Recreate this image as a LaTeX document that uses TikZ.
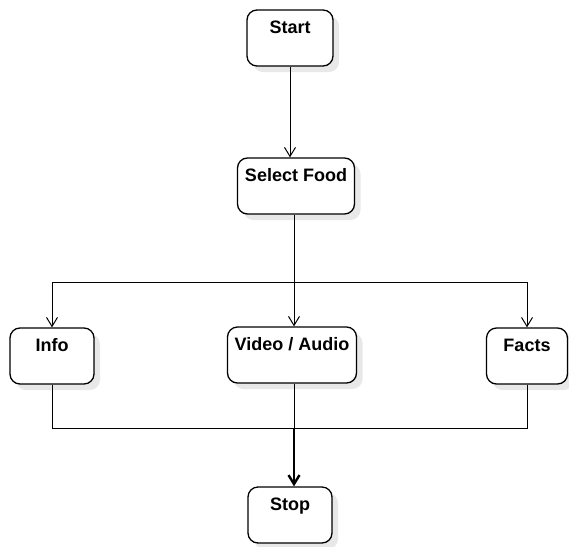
\documentclass[tikz,border=0pt]{standalone}
\usepackage{fontspec}
\setmainfont{Liberation Sans}
\usetikzlibrary{arrows.meta,shadows}

\begin{document}
\begin{tikzpicture}
			[
				x                       = 1pt,
				y                       = -1pt,
				font                    = \fontsize{18}{21}\selectfont\bfseries,
				line width              = 1pt,
				>                       = {Straight Barb[length=9pt,width=11pt]},
				align                   = center
			]
			\tikzstyle{flowbox}=[draw, line width=1.3pt, rounded corners=10pt, fill=white, inner xsep=0pt, inner ysep=0pt,
				text height=23pt, text depth=33pt,
				drop shadow={shadow xshift=6pt, shadow yshift=-6pt, fill=black!9, opacity=1}]
			\useasboundingbox (0,0) rectangle (569,546);
			\node [flowbox, minimum width=86pt]  (start) at (290,38)  {Start};
			\node [flowbox, minimum width=117pt] (food)  at (296,186) {Select Food};
			\node [flowbox, minimum width=84pt]  (info)  at (52,356)  {Info};
			\node [flowbox, minimum width=129pt] (video) at (292,355) {Video / Audio};
			\node [flowbox, minimum width=81pt]  (facts) at (527,356) {Facts};
			\node [flowbox, minimum width=84pt]  (stop)  at (290,515) {Stop};
			\coordinate (fork) at (294,282);
			\coordinate (join) at (294,428);
			\draw [->] (start) -- (start |- food.north);
			\draw (food.south -| fork) -- (fork);
			\draw [->] (fork) -| (info);
			\draw [->] (fork) -| (facts);
			\draw [->] (fork) -- (fork |- video.north);
			\draw (info) |- (join);
			\draw (facts) |- (join);
			\draw (video.south -| join) -- (join);
			\draw [->, line width=2.4pt] (join) -- (join |- stop.north);
		\end{tikzpicture}
\end{document}
